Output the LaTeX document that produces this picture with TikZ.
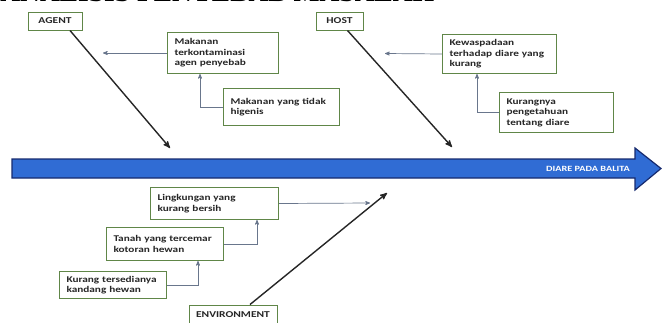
\documentclass[tikz,border=0pt]{standalone}
\usepackage{fontspec}
\usetikzlibrary{arrows,calc}
\newfontfamily\boxfont[FakeStretch=1.28, BoldFeatures={FakeStretch=1.28}]{Carlito}
\newfontfamily\headfont{Liberation Serif}
\definecolor{boxgreen}{RGB}{96,134,72}
\definecolor{linkgray}{RGB}{105,118,140}
\definecolor{spineblue}{RGB}{48,108,212}
\definecolor{spineedge}{RGB}{22,42,110}

\begin{document}
\begin{tikzpicture}[x=1pt, y=-1pt, >=stealth', semithick,
    cause/.style={draw=boxgreen, line width=1pt, fill=white, anchor=north west, align=left,
                  inner xsep=7pt, inner ysep=2pt, text=black!85,
                  font=\boxfont\bfseries\fontsize{8.8}{10.4}\selectfont},
    category/.style={draw=boxgreen, line width=1pt, fill=white, inner sep=0pt, minimum height=18pt,
                  text=black!85, font=\boxfont\bfseries\fontsize{9}{10}\selectfont},
    bone/.style={->, line width=1.4pt, draw=black!85},
    link/.style={->, line width=0.7pt, draw=linkgray}]
    \useasboundingbox (0,0) rectangle (667,322);

    % title, mostly cut off by the page edge
    \node[anchor=base west, inner sep=0pt, font=\headfont\bfseries\fontsize{27.5}{28}\selectfont] (title) at (0,1.5) {ANALISIS PENYEBAB MASALAH};

    % spine
    \draw[spineedge, fill=spineblue, line width=1.2pt, line join=miter]
        (12,159) -- (635,159) -- (635,148) -- (661,168.5) -- (635,190) -- (635,178) -- (12,178) -- cycle;
    \node[text=white, font=\boxfont\bfseries\fontsize{8}{8}\selectfont] (effect) at (588,168.5) {DIARE PADA BALITA};

    % categories
    \node[category, minimum width=54pt]                  (agent) at (55,21)    {AGENT};
    \node[category, minimum width=47pt]                  (host)  at (339.5,21) {HOST};
    \node[category, minimum width=88pt, minimum height=20pt] (env) at (233,315) {ENVIRONMENT};

    % causes
    \node[cause, text width=97pt,  minimum height=41pt] (makan)   at (167,32)  {Makanan\\terkontaminasi\\agen penyebab};
    \node[cause, text width=102pt, minimum height=37pt] (higenis) at (223,88)  {Makanan yang tidak\\higenis};
    \node[cause, text width=100pt, minimum height=39pt] (waspada) at (442,34)  {Kewaspadaan\\terhadap diare yang\\kurang};
    \node[cause, text width=100pt, minimum height=40pt] (tahu)    at (499,92)  {Kurangnya\\pengetahuan\\tentang diare};
    \node[cause, text width=114pt, minimum height=32pt] (bersih)  at (150,187) {Lingkungan yang\\kurang bersih};
    \node[cause, text width=103pt, minimum height=33pt] (tanah)   at (106,227) {Tanah yang tercemar\\kotoran hewan};
    \node[cause, text width=93pt,  minimum height=27pt] (kandang) at (59,271)  {Kurang tersedianya\\kandang hewan};

    % bone tips
    \coordinate (agentTip) at (170,148);
    \coordinate (hostTip)  at (452,147);
    \coordinate (envTip)   at (387,193);
    \coordinate (makanTip) at (103,53);
    \coordinate (waspTip)  at (385,53.5);
    \coordinate (bersTip)  at (370,203);

    \draw[bone] ([xshift=15pt]agent.south) -- (agentTip);
    \draw[bone] ([xshift=8pt]host.south)   -- (hostTip);
    \draw[bone] ([xshift=17pt]env.north)   -- (envTip);

    \draw[link] (makan.west)   -- (makanTip);
    \draw[link] (higenis.west) -| ([xshift=33pt]makan.south west);
    \draw[link] (waspada.west) -- (waspTip);
    \draw[link] (tahu.west)    -| ([xshift=35pt]waspada.south west);
    \draw[link] (bersih.east)  -- (bersTip);
    \draw[link] (tanah.east)   -| ([xshift=-22pt]bersih.south east);
    \draw[link] (kandang.east) -| ([xshift=-26pt]tanah.south east);
\end{tikzpicture}
\end{document}
